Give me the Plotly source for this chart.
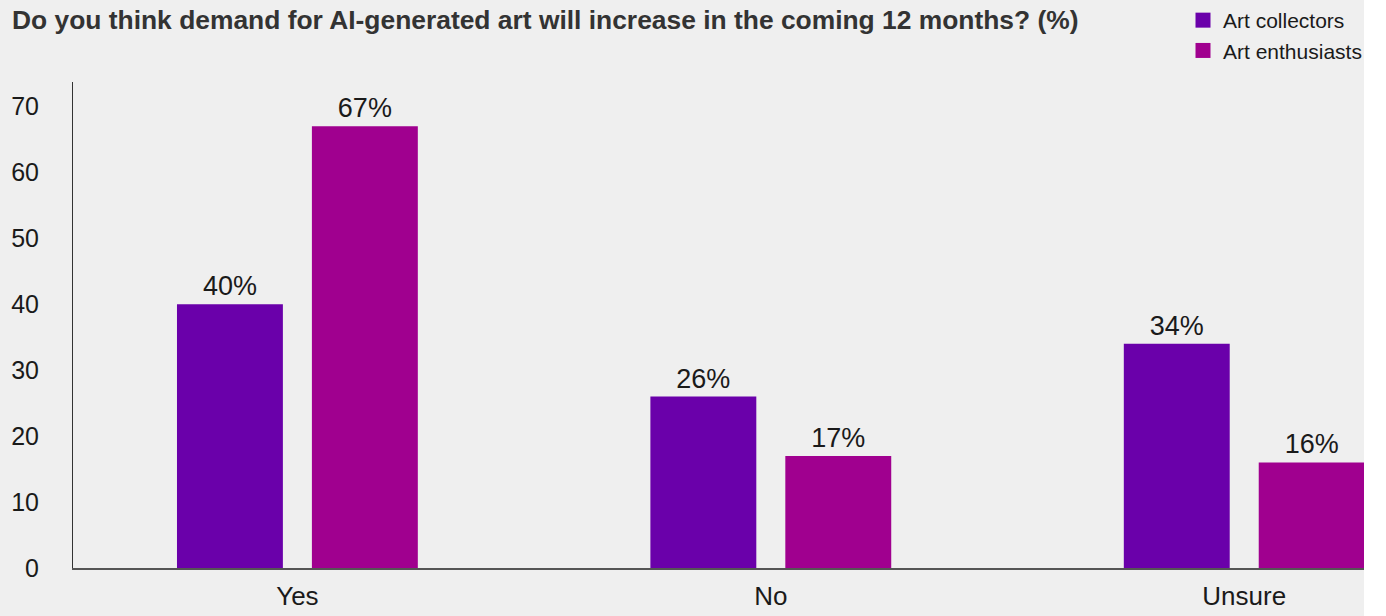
import plotly.graph_objects as go

# Survey responses (percent)
categories = ["Yes", "No", "Unsure"]
collectors = [40, 26, 34]
enthusiasts = [67, 17, 16]
series_names = ["Art collectors", "Art enthusiasts"]
y_ticks = [0, 10, 20, 30, 40, 50, 60, 70]

title_text = "Do you think demand for AI-generated art will increase in the coming 12 months? (%)"

PURPLE = "#6A00AA"
MAGENTA = "#A0008F"
BG = "#EFEFEF"
FONT = "Liberation Sans, Arial, Helvetica, sans-serif"

fig = go.Figure()
for name, vals, color in [
    (series_names[0], collectors, PURPLE),
    (series_names[1], enthusiasts, MAGENTA),
]:
    fig.add_trace(
        go.Bar(
            name=name,
            x=list(range(len(categories))),
            y=vals,
            marker=dict(color=color, line=dict(width=0)),
            text=[f"{v}%" for v in vals],
            textposition="outside",
            textfont=dict(size=27, color="#1a1a1a", family=FONT),
            cliponaxis=False,
            showlegend=False,
        )
    )
    # legend entry with a larger square swatch
    fig.add_trace(
        go.Scatter(
            name=name,
            x=[None],
            y=[None],
            mode="markers",
            marker=dict(symbol="square", size=15, color=color),
            showlegend=True,
            legendgroup=name,
        )
    )

fig.update_layout(
    width=1364,
    height=616,
    paper_bgcolor=BG,
    plot_bgcolor=BG,
    margin=dict(l=73, r=0, t=82, b=48, autoexpand=False),
    barmode="group",
    bargap=0.43,
    bargroupgap=0.215,
    font=dict(family=FONT, color="#1a1a1a"),
    title=dict(
        text="<b>" + title_text + "</b>",
        font=dict(size=26.4, color="#333333", family=FONT),
        xref="container",
        yref="container",
        x=12 / 1364,
        xanchor="left",
        y=1 - 20 / 616,
        yanchor="middle",
    ),
    legend=dict(
        xref="container",
        yref="container",
        x=1183 / 1364,
        xanchor="left",
        y=1 + 3 / 616,
        yanchor="top",
        font=dict(size=21, color="#1a1a1a", family=FONT),
        bgcolor="rgba(0,0,0,0)",
        tracegroupgap=0,
        itemwidth=30,
    ),
    showlegend=True,
)

fig.update_xaxes(
    tickmode="array",
    tickvals=list(range(len(categories))),
    ticktext=categories,
    range=[-0.474, 2.253],
    showgrid=False,
    zeroline=False,
    showline=True,
    linecolor="#555555",
    linewidth=2,
    ticks="",
    tickfont=dict(size=26, color="#1a1a1a", family=FONT),
    ticklabelstandoff=4,
)
fig.update_yaxes(
    tickmode="array",
    tickvals=y_ticks,
    range=[0, 73.7],
    showgrid=False,
    zeroline=False,
    showline=True,
    linecolor="#333333",
    linewidth=1,
    ticks="",
    tickfont=dict(size=25, color="#1a1a1a", family=FONT),
    ticklabelstandoff=28,
)

fig.write_html("out.html")
